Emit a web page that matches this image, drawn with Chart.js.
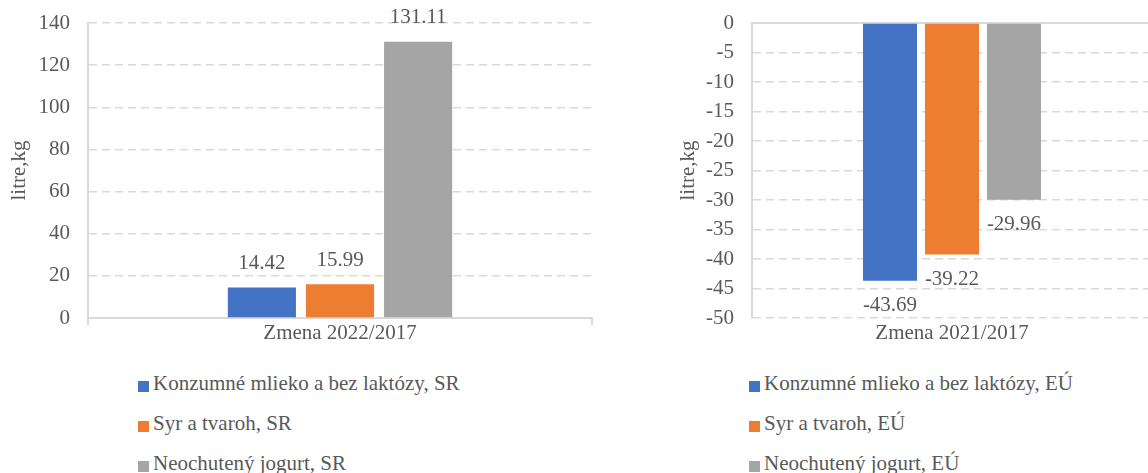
<!DOCTYPE html>
<html>
<head>
<meta charset="utf-8">
<title>Zmena spotreby mlieka a mliečnych výrobkov</title>
<script src="https://cdn.jsdelivr.net/npm/chart.js@4.4.0/dist/chart.umd.min.js"></script>
<style>
  body {
    margin: 0;
    width: 1148px;
    height: 473px;
    overflow: hidden;
    position: relative;
    background: #fff;
    font-family: "Liberation Serif", "Times New Roman", serif;
    color: #595959;
  }
  canvas { position: absolute; top: 0; }
  #chartSR { left: 0; }
  #chartEU { left: 660px; }
  .legend {
    position: absolute;
    top: 363px;
    margin: 0;
    padding: 0;
    list-style: none;
    font-size: 21px;
  }
  .legend li {
    height: 40px;
    display: flex;
    align-items: center;
    white-space: nowrap;
  }
  .legend .box {
    display: inline-block;
    width: 11px;
    height: 11px;
    margin-right: 4px;
    position: relative;
    top: 3px;
  }
  #legendSR { left: 138px; }
  #legendEU { left: 749px; }
</style>
</head>
<body>
<canvas id="chartSR" width="600" height="350"></canvas>
<canvas id="chartEU" width="500" height="350"></canvas>
<ul id="legendSR" class="legend"></ul>
<ul id="legendEU" class="legend"></ul>
<script>
// data
const periodSR = ["Zmena 2022/2017"];
const periodEU = ["Zmena 2021/2017"];
const productsSR = ["Konzumné mlieko a bez laktózy, SR", "Syr a tvaroh, SR", "Neochutený jogurt, SR"];
const productsEU = ["Konzumné mlieko a bez laktózy, EÚ", "Syr a tvaroh, EÚ", "Neochutený jogurt, EÚ"];
const changeSR = [14.42, 15.99, 131.11];
const changeEU = [-43.69, -39.22, -29.96];
const axisSR = [0, 140, 20];   // min, max, step
const axisEU = [-50, 0, 5];
const unitLabel = "litre,kg";

const barColors = ["#4472C4", "#ED7D31", "#A5A5A5"];
const textColor = "#595959";
const lineColor = "#D9D9D9";

Chart.defaults.font.family = "'Liberation Serif', 'Times New Roman', serif";
Chart.defaults.font.size = 21;
Chart.defaults.color = textColor;

// value labels above positive bars, below negative ones
const valueLabels = {
  id: "valueLabels",
  afterDatasetsDraw(chart) {
    const ctx = chart.ctx;
    ctx.save();
    ctx.font = "21px 'Liberation Serif', 'Times New Roman', serif";
    ctx.fillStyle = textColor;
    ctx.textAlign = "center";
    ctx.textBaseline = "middle";
    chart.data.datasets.forEach((ds, i) => {
      chart.getDatasetMeta(i).data.forEach((bar, j) => {
        const v = ds.data[j];
        const y = v >= 0 ? bar.y - 24 : bar.y + 25;
        ctx.fillText(v.toFixed(2), bar.x, y);
      });
    });
    ctx.restore();
  }
};

function buildLegend(chart, listId) {
  const list = document.getElementById(listId);
  const items = chart.options.plugins.legend.labels.generateLabels(chart);
  items.forEach(item => {
    const li = document.createElement("li");
    const box = document.createElement("span");
    box.className = "box";
    box.style.background = item.fillStyle;
    li.appendChild(box);
    li.appendChild(document.createTextNode(item.text));
    list.appendChild(li);
  });
}

function makeChart(canvasId, labels, names, values, range, negative) {
  const datasets = names.map((name, i) => ({
    label: name,
    data: [values[i]],
    backgroundColor: barColors[i],
    borderWidth: 0,
    categoryPercentage: 0.465,
    barPercentage: 0.872
  }));

  const scales = {
    x: {
      position: "bottom",
      grid: {
        display: !negative,
        drawOnChartArea: false,
        drawTicks: !negative,
        tickLength: 7,
        color: lineColor,
        lineWidth: 2
      },
      border: { display: !negative, color: lineColor, width: 2 },
      ticks: { padding: negative ? 3 : -4, color: textColor },
      afterFit: s => { s.height = 32; }
    },
    y: {
      min: range[0],
      max: range[1],
      ticks: { stepSize: range[2], padding: 3, color: textColor },
      // invisible tick marks keep the labels clear of the axis
      grid: {
        color: lineColor,
        lineWidth: 1.5,
        drawTicks: true,
        tickLength: 15,
        tickColor: "rgba(0,0,0,0)"
      },
      border: { display: true, color: lineColor, width: 2, dash: [8, 5] },
      title: {
        display: true,
        text: unitLabel,
        color: textColor,
        padding: { top: negative ? 16 : 7, bottom: 0 }
      },
      afterFit: s => { s.width = negative ? 92 : 88; }
    }
  };

  if (negative) {
    // horizontal axis crosses at zero, on top of the plot
    scales.xTop = {
      type: "category",
      position: "top",
      ticks: { display: false },
      grid: { display: false, drawTicks: false },
      border: { display: true, color: lineColor, width: 2 }
    };
  }

  return new Chart(document.getElementById(canvasId), {
    type: "bar",
    data: { labels: labels, datasets: datasets },
    options: {
      responsive: false,
      animation: false,
      events: [],
      layout: { padding: { left: 0, right: 8, top: 23, bottom: 0 } },
      plugins: {
        legend: { display: false },
        tooltip: { enabled: false }
      },
      scales: scales
    },
    plugins: [valueLabels]
  });
}

const chartSR = makeChart("chartSR", periodSR, productsSR, changeSR, axisSR, false);
const chartEU = makeChart("chartEU", periodEU, productsEU, changeEU, axisEU, true);
buildLegend(chartSR, "legendSR");
buildLegend(chartEU, "legendEU");
</script>
</body>
</html>
